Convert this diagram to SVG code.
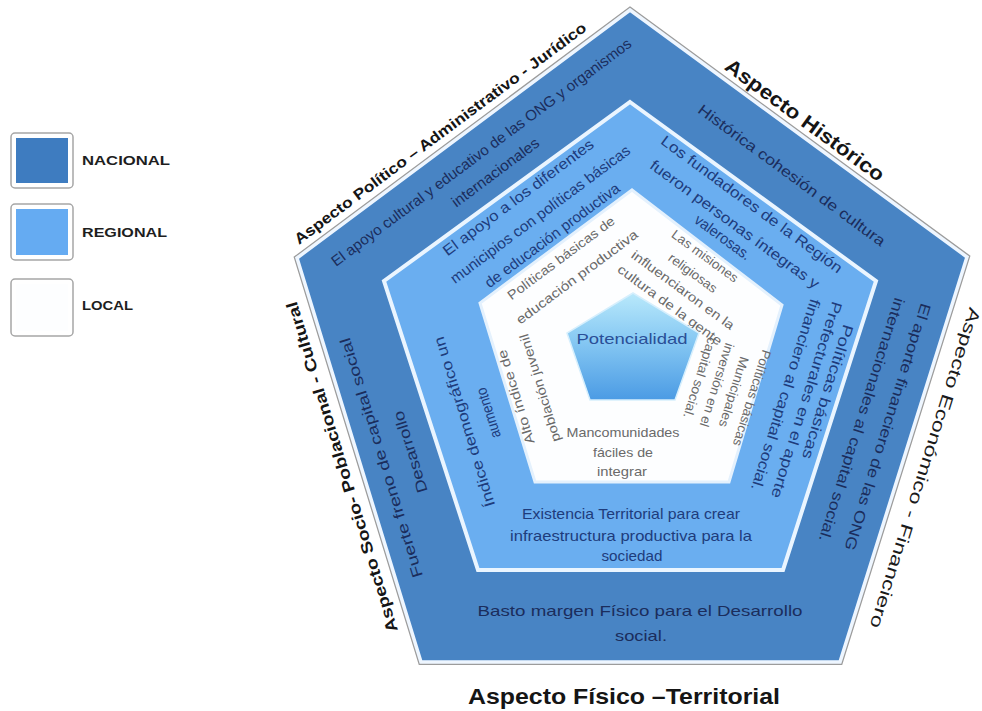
<svg xmlns="http://www.w3.org/2000/svg" width="982" height="711" viewBox="0 0 982 711">
<style>
text{font-family:"Liberation Sans","Open Sans",Arial,sans-serif;text-anchor:middle;dominant-baseline:central}
.lab{font-weight:bold;fill:#151515}
.labn{fill:#1a1a1a}
.nat{fill:#1b2d5c;font-size:15px}
.reg{fill:#1e3c7c;font-size:15px}
.loc{fill:#6a6a6a;font-size:13px}
.leg{font-weight:bold;font-size:12px;fill:#1e1e1e;text-anchor:start}
.box{fill:#ffffff;stroke:#a6a6a6;stroke-width:1.5}
</style>
<defs>
<linearGradient id="coreGrad" x1="0" y1="0" x2="0" y2="1">
<stop offset="0" stop-color="#b9e9fb"/>
<stop offset="0.45" stop-color="#86c8f3"/>
<stop offset="1" stop-color="#4b9be4"/>
</linearGradient>
</defs>
<rect width="982" height="711" fill="#ffffff"/>

<g id="legend">
<g id="legend-nacional">
<rect class="box" x="11" y="133" width="62" height="55" rx="4"/>
<rect x="16" y="138" width="52" height="45" fill="#3e7cc0"/>
<text class="leg" x="82" y="161" textLength="88" lengthAdjust="spacingAndGlyphs">NACIONAL</text>
</g>
<g id="legend-regional">
<rect class="box" x="11" y="204" width="62" height="56" rx="4"/>
<rect x="16" y="209" width="52" height="46" fill="#65abf2"/>
<text class="leg" x="82" y="233" textLength="85" lengthAdjust="spacingAndGlyphs">REGIONAL</text>
</g>
<g id="legend-local">
<rect class="box" x="11" y="279" width="62" height="57" rx="4"/>
<rect x="16" y="284" width="52" height="47" fill="#fdfeff"/>
<text class="leg" x="82" y="306" textLength="51" lengthAdjust="spacingAndGlyphs">LOCAL</text>
</g>
</g>

<g id="nacional">
<polygon points="630,10 967,257 840,662 421,662 297,258" fill="none" stroke="#9c9c9c" stroke-width="6" stroke-linejoin="miter"/>
<polygon points="630,10 967,257 840,662 421,662 297,258" fill="#4884c4" stroke="#eef6ff" stroke-width="3.5"/>
<text class="nat" transform="translate(481,152) rotate(-36.7)" textLength="370" lengthAdjust="spacingAndGlyphs">El apoyo cultural y educativo de las ONG y organismos</text>
<text class="nat" transform="translate(495,172) rotate(-36.7)" textLength="105" lengthAdjust="spacingAndGlyphs">internacionales</text>
<text class="nat" transform="translate(792,175) rotate(36.3)" textLength="228" lengthAdjust="spacingAndGlyphs">Histórica  cohesión de cultura</text>
<text class="nat" transform="translate(888,427) rotate(107.4)" textLength="258" lengthAdjust="spacingAndGlyphs">El aporte financiero de las ONG</text>
<text class="nat" transform="translate(862,420) rotate(107.4)" textLength="255" lengthAdjust="spacingAndGlyphs">internacionales  al capital social.</text>
<text class="nat" transform="translate(381,458) rotate(-107.1)" textLength="250" lengthAdjust="spacingAndGlyphs">Fuerte  freno de capital social</text>
<text class="nat" transform="translate(410,452) rotate(-107.1)" textLength="85" lengthAdjust="spacingAndGlyphs">Desarrollo</text>
<text class="nat" x="640" y="610" textLength="325" lengthAdjust="spacingAndGlyphs">Basto  margen  Físico para el Desarrollo</text>
<text class="nat" x="641" y="635" textLength="52" lengthAdjust="spacingAndGlyphs">social.</text>
</g>

<g id="regional">
<polygon points="630,102 876,281 783,570 478,570 384,281" fill="#6aaef0" stroke="#eaf5ff" stroke-width="4"/>
<text class="reg" transform="translate(518,197) rotate(-36.7)" textLength="184" lengthAdjust="spacingAndGlyphs">El apoyo a los diferentes</text>
<text class="reg" transform="translate(540,214) rotate(-36.7)" textLength="220" lengthAdjust="spacingAndGlyphs">municipios con políticas básicas</text>
<text class="reg" transform="translate(552,235) rotate(-36.7)" textLength="164" lengthAdjust="spacingAndGlyphs">de educación productiva</text>
<text class="reg" transform="translate(752,204) rotate(36.3)" textLength="221" lengthAdjust="spacingAndGlyphs">Los fundadores de la  Región</text>
<text class="reg" transform="translate(735,224) rotate(36.3)" textLength="206" lengthAdjust="spacingAndGlyphs">fueron personas íntegras  y</text>
<text class="reg" transform="translate(723,237) rotate(36.3)" textLength="66" lengthAdjust="spacingAndGlyphs">valerosas.</text>
<text class="reg" transform="translate(828,392) rotate(107.4)" textLength="140" lengthAdjust="spacingAndGlyphs">Políticas  básicas</text>
<text class="reg" transform="translate(807,400) rotate(107.4)" textLength="205" lengthAdjust="spacingAndGlyphs">Prefecturales  en el  aporte</text>
<text class="reg" transform="translate(786,395) rotate(107.4)" textLength="200" lengthAdjust="spacingAndGlyphs">financiero al capital social.</text>
<text class="reg" x="631" y="513" font-size="14" textLength="218" lengthAdjust="spacingAndGlyphs">Existencia Territorial para crear</text>
<text class="reg" x="631" y="535" font-size="14" textLength="242" lengthAdjust="spacingAndGlyphs">infraestructura productiva  para la</text>
<text class="reg" x="632" y="555" font-size="14" textLength="61" lengthAdjust="spacingAndGlyphs">sociedad</text>
<text class="reg" transform="translate(464,422) rotate(-107.1)" textLength="177" lengthAdjust="spacingAndGlyphs">Índice demográfico un</text>
<text class="reg" transform="translate(488,413) rotate(-107.1)" textLength="52" lengthAdjust="spacingAndGlyphs">aumento</text>
</g>

<g id="local">
<polygon points="632,190 782,305 729,482 535,482 480,303" fill="#fdfeff" stroke="#e4f1fd" stroke-width="3"/>
<text class="loc" transform="translate(561,258) rotate(-36.7)" textLength="130" lengthAdjust="spacingAndGlyphs">Políticas  básicas de</text>
<text class="loc" transform="translate(577,277) rotate(-36.7)" textLength="148" lengthAdjust="spacingAndGlyphs">educación productiva</text>
<text class="loc" transform="translate(705,256) rotate(36.3)" textLength="79" lengthAdjust="spacingAndGlyphs">Las misiones</text>
<text class="loc" transform="translate(693,273) rotate(36.3)" textLength="57" lengthAdjust="spacingAndGlyphs">religiosas</text>
<text class="loc" transform="translate(683,290) rotate(36.3)" textLength="124" lengthAdjust="spacingAndGlyphs">influenciaron en la</text>
<text class="loc" transform="translate(670,305) rotate(36.3)" textLength="126" lengthAdjust="spacingAndGlyphs">cultura de la gente</text>
<text class="loc" transform="translate(752,398) rotate(107.4)" textLength="100" lengthAdjust="spacingAndGlyphs">Políticas básicas</text>
<text class="loc" transform="translate(734,392) rotate(107.4)" textLength="73" lengthAdjust="spacingAndGlyphs">Municipales</text>
<text class="loc" transform="translate(717,385) rotate(107.4)" textLength="87" lengthAdjust="spacingAndGlyphs">inversión en el</text>
<text class="loc" transform="translate(700,378) rotate(107.4)" textLength="84" lengthAdjust="spacingAndGlyphs">capital social.</text>
<text class="loc" x="623" y="432" font-size="14" textLength="113" lengthAdjust="spacingAndGlyphs">Mancomunidades</text>
<text class="loc" x="623" y="452" font-size="14" textLength="60" lengthAdjust="spacingAndGlyphs">fáciles de</text>
<text class="loc" x="622" y="471" font-size="14" textLength="50" lengthAdjust="spacingAndGlyphs">integrar</text>
<text class="loc" transform="translate(516,397) rotate(-107.1)" textLength="98" lengthAdjust="spacingAndGlyphs">Alto índice de</text>
<text class="loc" transform="translate(540,388) rotate(-107.1)" textLength="112" lengthAdjust="spacingAndGlyphs">población juvenil</text>
</g>

<g id="potencialidad">
<polygon points="633,293 699,333 675,400 590,400 567,333" fill="url(#coreGrad)" stroke="#d6effd" stroke-width="1.5"/>
<text x="632" y="338" font-size="15" fill="#2a4f97" textLength="111" lengthAdjust="spacingAndGlyphs">Potencialidad</text>
</g>

<g id="aspect-labels">
<text class="lab" font-size="15" transform="translate(440,133) rotate(-36.7)" textLength="360" lengthAdjust="spacingAndGlyphs">Aspecto Político – Administrativo - Jurídico</text>
<text class="lab" font-size="20" transform="translate(805,120) rotate(36.3)" textLength="192" lengthAdjust="spacingAndGlyphs">Aspecto Histórico</text>
<text class="labn" font-size="17" transform="translate(925,468) rotate(107.4)" textLength="335" lengthAdjust="spacingAndGlyphs">Aspecto Económico - Financiero</text>
<text class="lab" font-size="16" transform="translate(342,467) rotate(-107.1)" textLength="345" lengthAdjust="spacingAndGlyphs">Aspecto Socio- Poblacional - Cultural</text>
<text class="lab" font-size="22" x="624" y="696" textLength="312" lengthAdjust="spacingAndGlyphs">Aspecto Físico –Territorial</text>
</g>
</svg>
